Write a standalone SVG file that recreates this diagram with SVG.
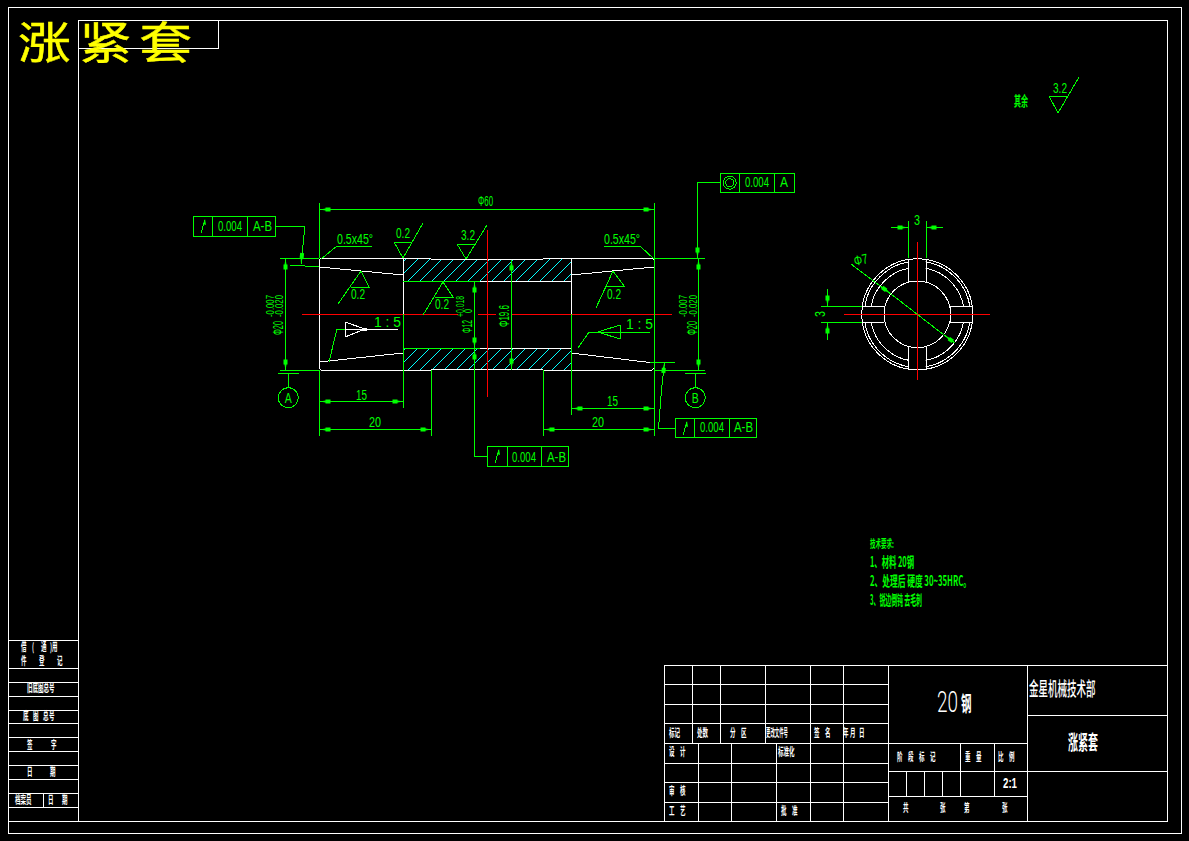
<svg xmlns="http://www.w3.org/2000/svg" width="1189" height="841" viewBox="0 0 1189 841">
<style>
.w{fill:none;stroke:#fff;stroke-width:1;shape-rendering:crispEdges}
.g{fill:none;stroke:#0f0;stroke-width:1;shape-rendering:crispEdges}
.r{fill:none;stroke:#f00;stroke-width:1;shape-rendering:crispEdges}
.h{fill:none;stroke:#0ff;stroke-width:1;shape-rendering:crispEdges}
.a{marker-end:url(#arr)}
.b{marker-start:url(#arr);marker-end:url(#arr)}
text{font-family:"Liberation Sans","Noto Sans CJK SC",sans-serif}
.d{fill:#0f0;font-size:14px}
.t{fill:#fff;font-family:"Noto Sans CJK SC",sans-serif;font-size:11px;font-weight:700}
.c{fill:#0f0;font-family:"Noto Sans CJK SC",sans-serif;font-size:12px;font-weight:700}
.s{fill:#0f0;font-size:10.5px}
</style>
<defs>
<marker id="arr" viewBox="-12 -3 12.5 6" refX="0" refY="0" markerWidth="12.5" markerHeight="6" markerUnits="userSpaceOnUse" orient="auto-start-reverse">
<path d="M-11,-2H-6V-1L0,0L-6,1V2H-11Z" fill="#0f0"/>
</marker>
<clipPath id="hatchclip">
<rect x="403" y="259" width="168" height="22"/>
<rect x="403" y="348" width="168" height="22"/>
</clipPath>
<clipPath id="quads">
<rect x="850" y="250" width="58.3" height="56.3"/>
<rect x="925.7" y="250" width="58.3" height="56.3"/>
<rect x="850" y="322.3" width="58.3" height="56.3"/>
<rect x="925.7" y="322.3" width="58.3" height="56.3"/>
</clipPath>
<g id="runout">
<path class="g" d="M8,17L12,4"/>
<path d="M12,3L13,9L10,8Z" fill="#0f0"/>
</g>
</defs>
<rect width="1189" height="841" fill="#000"/>

<g id="frame">
<rect class="w" x="8" y="7" width="1173" height="826"/>
<rect class="w" x="78" y="20" width="1089" height="801"/>
<path class="w" d="M78,20V48H218V20M8,821H78"/>
</g>

<g id="heading">
<text transform="matrix(1.2 0 0 1 18 59)" x="0 51 101" font-size="44" font-weight="400" fill="#ff0" stroke="#ff0" stroke-width=".5" style="font-family:'Noto Sans CJK SC',sans-serif">涨紧套</text>
</g>

<g id="left-strip">
<path class="w" d="M8,640H78M8,668H78M8,682H78M8,696H78M8,710H78M8,723H78M8,737H78M8,751H78M8,765H78M8,779H78M8,793H78M8,807H78M43,793V807"/>
<text class="t" transform="matrix(.5 0 0 1 21 651)" x="0 22 40 58">借(通)用</text>
<text class="t" transform="matrix(.5 0 0 1 21 665)" x="0 36 72">件登记</text>
<text class="t" transform="matrix(.5 0 0 1 27 692)">旧底图总号</text>
<text class="t" transform="matrix(.5 0 0 1 23 720)" x="0 20 40 52">底图总号</text>
<text class="t" transform="matrix(.5 0 0 1 27 749)" x="0 48">签字</text>
<text class="t" transform="matrix(.5 0 0 1 27 776)" x="0 46">日期</text>
<text class="t" transform="matrix(.5 0 0 1 15 804)">档案员</text>
<text class="t" transform="matrix(.5 0 0 1 48 804)" x="0 28">日期</text>
</g>

<g id="title-block">
<path class="w" d="M664,665H1167M664,684H888M664,704H888M664,723H888M664,743H1027M664,763H888M664,782H888M664,802H888M888,771H1167M888,796H1027M1027,715H1167"/>
<path class="w" d="M664,665V821M692,665V743M720,665V743M765,665V743M810,665V821M843,665V821M888,665V821M698,743V821M731,743V821M776,743V821M1027,665V821M960,743V796M994,743V796M906,771V796M924,771V796M942,771V796"/>
<text class="t" transform="matrix(.5 0 0 1 669 737)">标记</text>
<text class="t" transform="matrix(.5 0 0 1 697 737)">处数</text>
<text class="t" transform="matrix(.5 0 0 1 730 737)" x="0 22">分区</text>
<text class="t" transform="matrix(.4 0 0 1 766 737)">更改文件号</text>
<text class="t" transform="matrix(.5 0 0 1 814 737)" x="0 22">签名</text>
<text class="t" transform="matrix(.5 0 0 1 843 737)" x="0 14 32">年月日</text>
<text class="t" transform="matrix(.5 0 0 1 669 756)" x="0 22">设计</text>
<text class="t" transform="matrix(.5 0 0 1 778 756)">标准化</text>
<text class="t" transform="matrix(.5 0 0 1 669 795)" x="0 22">审核</text>
<text class="t" transform="matrix(.5 0 0 1 669 815)" x="0 22">工艺</text>
<text class="t" transform="matrix(.5 0 0 1 781 815)" x="0 22">批准</text>
<text class="t" transform="matrix(.5 0 0 1 897 761)" x="0 22 44 66">阶段标记</text>
<text class="t" transform="matrix(.5 0 0 1 965 761)" x="0 22">重量</text>
<text class="t" transform="matrix(.5 0 0 1 998 761)" x="0 22">比例</text>
<text x="1003" y="788" fill="#fff" font-weight="700" font-size="15" textLength="14" lengthAdjust="spacingAndGlyphs">2:1</text>
<text class="t" transform="matrix(.5 0 0 1 903 812)" x="0 74 122 198">共张第张</text>
<text x="937" y="712" fill="#fff" textLength="21" lengthAdjust="spacingAndGlyphs" style="font-family:Roboto,sans-serif;font-weight:300;font-size:29px">20</text>
<text class="t" transform="matrix(.5 0 0 1 961 711)" style="font-size:21px">钢</text>
<text class="t" transform="matrix(.5 0 0 1 1029 696)" style="font-size:19px;font-weight:500">金星机械技术部</text>
<text class="t" transform="matrix(.5 0 0 1 1068 750)" style="font-size:20px">涨紧套</text>
</g>

<g id="notes">
<text class="c" transform="matrix(.5 0 0 1 870 548)" style="font-size:11px">技术要求:</text>
<text class="c" transform="matrix(.5 0 0 1 870 567)" style="font-size:14px" textLength="88" lengthAdjust="spacingAndGlyphs">1、材料 20钢</text>
<text class="c" transform="matrix(.5 0 0 1 870 586)" style="font-size:14px" textLength="202" lengthAdjust="spacingAndGlyphs">2、处理后 硬度 30~35HRC。</text>
<text class="c" transform="matrix(.5 0 0 1 870 605)" style="font-size:14px" textLength="104" lengthAdjust="spacingAndGlyphs">3、锐边倒钝 去毛刺</text>
<text class="c" transform="matrix(.5 0 0 1 1014 106)" style="font-size:14px">其余</text>
<path class="g" d="M1049,96H1068M1049,96L1058,113L1079,77"/>
<text class="d" x="1053" y="93" textLength="14" lengthAdjust="spacingAndGlyphs">3.2</text>
</g>

<g id="section-view">
<g clip-path="url(#hatchclip)">
<path class="h" d="M384,281l22-22M396,281l22-22M408,281l22-22M420,281l22-22M432,281l22-22M444,281l22-22M456,281l22-22M468,281l22-22M480,281l22-22M492,281l22-22M504,281l22-22M516,281l22-22M528,281l22-22M540,281l22-22M552,281l22-22M564,281l22-22"/>
<path class="h" d="M384,370l22-22M396,370l22-22M408,370l22-22M420,370l22-22M432,370l22-22M444,370l22-22M456,370l22-22M468,370l22-22M480,370l22-22M492,370l22-22M504,370l22-22M516,370l22-22M528,370l22-22M540,370l22-22M552,370l22-22M564,370l22-22"/>
</g>
<path class="w" d="M321,258H431M431,259H543M543,258H652L654,260M321,370H431M431,369H543M543,370H652L654,368M321,370L319,368V260L321,258"/>
<path class="w" d="M319,267L403,275M654,267L571,275M319,362L403,353M654,363L571,353"/>
<path class="w" d="M403,258V314M571,258V314M480,281H571M480,348H571"/>
<path class="g" d="M403,281H480M403,348H480"/>
</g>

<g id="end-view">
<circle class="w" cx="917.3" cy="314.3" r="55.5"/>
<circle class="w" cx="917.3" cy="314.3" r="33.3"/>
<g clip-path="url(#quads)">
<circle class="w" cx="917.3" cy="314.3" r="53"/>
<circle class="w" cx="917.3" cy="314.3" r="46.7"/>
</g>
<path class="w" d="M908,259V282M926,259V282M908,346V369M926,346V369M862,306H884M862,322H884M950,306H973M950,322H973M884,306V322M950,306V322"/>
</g>

<g id="centerlines">
<path class="r" d="M302,314H458M478,314H496M512,314H672M487,230V397M844,314H990M917,242V380"/>
</g>

<g id="connectors">
<path class="g" d="M319,203V258M319,370V436M654,203V436"/>
<path class="g b" d="M319.5,209.5H654.5"/>
<text class="d" x="478" y="206" textLength="15" lengthAdjust="spacingAndGlyphs">Φ60</text>
<path class="g" d="M280,258H319M280,370H319"/>
<path class="g b" d="M285.5,258.5V370.5"/>
<text class="d" transform="translate(283,335) rotate(-90)" textLength="14" lengthAdjust="spacingAndGlyphs">Φ20</text>
<text class="s" transform="translate(274,317) rotate(-90)" textLength="22" lengthAdjust="spacingAndGlyphs">-0.007</text>
<text class="s" transform="translate(283,317) rotate(-90)" textLength="22" lengthAdjust="spacingAndGlyphs">-0.020</text>
<path class="g" d="M654,258H705M654,370H705"/>
<path class="g b" d="M698.5,258.5V370.5"/>
<text class="d" transform="translate(697,335) rotate(-90)" textLength="14" lengthAdjust="spacingAndGlyphs">Φ20</text>
<text class="s" transform="translate(687,317) rotate(-90)" textLength="22" lengthAdjust="spacingAndGlyphs">-0.007</text>
<text class="s" transform="translate(697,317) rotate(-90)" textLength="22" lengthAdjust="spacingAndGlyphs">-0.020</text>
<path class="g" d="M403,314V408M431,370V436M571,314V415M543,370V436"/>
<path class="g b" d="M319.5,401.5H403.5"/>
<text class="d" x="356" y="400" textLength="11" lengthAdjust="spacingAndGlyphs">15</text>
<path class="g b" d="M319.5,429.5H431.5"/>
<text class="d" x="369" y="427" textLength="12" lengthAdjust="spacingAndGlyphs">20</text>
<path class="g b" d="M571.5,408.5H654.5"/>
<text class="d" x="607" y="406" textLength="11" lengthAdjust="spacingAndGlyphs">15</text>
<path class="g b" d="M543.5,429.5H654.5"/>
<text class="d" x="592" y="427" textLength="12" lengthAdjust="spacingAndGlyphs">20</text>
<path class="g b" d="M474.5,281.5V348.5"/>
<text class="d" transform="translate(472,333) rotate(-90)" textLength="13" lengthAdjust="spacingAndGlyphs">Φ12</text>
<text class="s" transform="translate(464,317) rotate(-90)" textLength="21" lengthAdjust="spacingAndGlyphs">+0.018</text>
<text class="s" transform="translate(472,313) rotate(-90)" textLength="4" lengthAdjust="spacingAndGlyphs">0</text>
<path class="g b" d="M511.5,259.5V369.5"/>
<text class="d" transform="translate(509,327) rotate(-90)" textLength="22" lengthAdjust="spacingAndGlyphs">Φ19.6</text>
<path class="g" d="M372,246H337L321,259"/>
<text class="d" x="337" y="244" textLength="36" lengthAdjust="spacingAndGlyphs">0.5x45°</text>
<path class="g" d="M604,246H640L654,259"/>
<text class="d" x="604" y="244" textLength="36" lengthAdjust="spacingAndGlyphs">0.5x45°</text>
<path class="g" d="M394,242H412M394,242L403,258L423,223"/>
<text class="d" x="396" y="238" textLength="14" lengthAdjust="spacingAndGlyphs">0.2</text>
<path class="g" d="M457,244H476M457,244L466,259L487,225"/>
<text class="d" x="461" y="240" textLength="14" lengthAdjust="spacingAndGlyphs">3.2</text>
<path class="g" d="M351,287H369L361,271L338,304"/>
<text class="d" x="351" y="299" textLength="14" lengthAdjust="spacingAndGlyphs">0.2</text>
<path class="g" d="M435,297H453L443,282L423,315"/>
<text class="d" x="435" y="309" textLength="14" lengthAdjust="spacingAndGlyphs">0.2</text>
<path class="g" d="M605,286H624L613,271L596,308"/>
<text class="d" x="607" y="299" textLength="14" lengthAdjust="spacingAndGlyphs">0.2</text>
<path class="g" d="M329,362L337,329H345"/>
<path class="w" d="M345,322V337M345,322L365,329L345,337M345,329H398"/>
<rect x="363" y="328" width="4" height="3" fill="#fff"/>
<text class="d" x="374" y="327" textLength="27" lengthAdjust="spacingAndGlyphs">1 : 5</text>
<path class="g" d="M578,348L589,332H650M620,325V339M620,325L598,332L620,339"/>
<text class="d" x="626" y="329" textLength="27" lengthAdjust="spacingAndGlyphs">1 : 5</text>
<path class="g" d="M290,265L305,266L319,267"/>
<path class="g" d="M650,362H675"/>
<path class="g a" d="M275,226.5H304.5V230.5L301,264"/>
<path class="g a" d="M720,182.5H697.5V258.5"/>
<path class="g a" d="M675,428.5H658.5L661.5,390L664.5,362"/>
<path class="g a" d="M487,456.5H474.5V348.5"/>
<path class="g" d="M908,221V258M926,221V258"/>
<path class="g a" d="M891,227.5H908.5"/>
<path class="g a" d="M943,227.5H925.5"/>
<text class="d" x="914" y="225" textLength="6" lengthAdjust="spacingAndGlyphs">3</text>
<path class="g" d="M821,306H862M821,322H862"/>
<path class="g a" d="M827.5,289V306.5"/>
<path class="g a" d="M827.5,340V322.5"/>
<text class="d" transform="translate(825,317) rotate(-90)" textLength="6" lengthAdjust="spacingAndGlyphs">3</text>
<path class="g" d="M891,294L944,335"/>
<path class="g a" d="M851,264L891,294"/>
<path class="g a" d="M955,343L944,335"/>
<text class="d" transform="translate(855,266) rotate(-12)" textLength="14" lengthAdjust="spacingAndGlyphs">Φ7</text>
</g>

<g id="datum-a">
<path class="g" d="M278,373H299M288,373V388"/>
<circle class="g" cx="288.3" cy="397.7" r="10"/>
<text class="d" x="288.3" y="402.5" text-anchor="middle" textLength="7" lengthAdjust="spacingAndGlyphs">A</text>
</g>
<g id="datum-b">
<path class="g" d="M685,373H706M695,373V388"/>
<circle class="g" cx="695.3" cy="397.7" r="10"/>
<text class="d" x="695.3" y="402.5" text-anchor="middle" textLength="7" lengthAdjust="spacingAndGlyphs">B</text>
</g>

<g id="fcf-left">
<rect class="g" x="193" y="216" width="82" height="20"/>
<path class="g" d="M212,216V236M247,216V236"/>
<use href="#runout" x="193" y="216"/>
<text class="d" x="218" y="231" textLength="24" lengthAdjust="spacingAndGlyphs">0.004</text>
<text class="d" x="253" y="231" textLength="19" lengthAdjust="spacingAndGlyphs">A-B</text>
</g>
<g id="fcf-top">
<rect class="g" x="720" y="173" width="74" height="19"/>
<path class="g" d="M739,173V192M774,173V192"/>
<circle class="g" cx="729.7" cy="182.7" r="6.5"/>
<circle class="g" cx="729.7" cy="182.7" r="4"/>
<text class="d" x="745" y="187" textLength="24" lengthAdjust="spacingAndGlyphs">0.004</text>
<text class="d" x="780" y="187" textLength="8" lengthAdjust="spacingAndGlyphs">A</text>
</g>
<g id="fcf-mid">
<rect class="g" x="487" y="446" width="81" height="20"/>
<path class="g" d="M507,446V466M541,446V466"/>
<use href="#runout" x="487" y="446"/>
<text class="d" x="512" y="462" textLength="24" lengthAdjust="spacingAndGlyphs">0.004</text>
<text class="d" x="547" y="462" textLength="19" lengthAdjust="spacingAndGlyphs">A-B</text>
</g>
<g id="fcf-right">
<rect class="g" x="675" y="418" width="81" height="19"/>
<path class="g" d="M694,418V437M729,418V437"/>
<use href="#runout" x="675" y="418"/>
<text class="d" x="700" y="432" textLength="24" lengthAdjust="spacingAndGlyphs">0.004</text>
<text class="d" x="734" y="432" textLength="19" lengthAdjust="spacingAndGlyphs">A-B</text>
</g>
</svg>
